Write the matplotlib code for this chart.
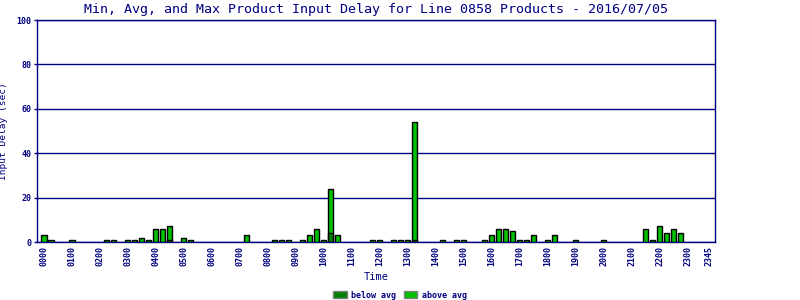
import matplotlib
matplotlib.use("Agg")
import matplotlib.pyplot as plt
from matplotlib.patches import Patch
import numpy as np

title = "Min, Avg, and Max Product Input Delay for Line 0858 Products - 2016/07/05"
tick_labels = ["0000", "0100", "0200", "0300", "0400", "0500", "0600", "0700",
               "0800", "0900", "1000", "1100", "1200", "1300", "1400", "1500",
               "1600", "1700", "1800", "1900", "2000", "2100", "2200", "2300", "2345"]
tick_slots = [0, 4, 8, 12, 16, 20, 24, 28, 32, 36, 40, 44, 48, 52, 56, 60,
              64, 68, 72, 76, 80, 84, 88, 92, 95]

# 15-minute slots 0000..2345 (96 values)
max_delay = [3, 1, 0, 0, 1, 0, 0, 0,
             0, 1, 1, 0, 1, 1, 2, 1,
             6, 6, 7, 0, 2, 1, 0, 0,
             0, 0, 0, 0, 0, 3, 0, 0,
             0, 1, 1, 1, 0, 1, 3, 6,
             1, 24, 3, 0, 0, 0, 0, 1,
             1, 0, 1, 1, 1, 54, 0, 0,
             0, 1, 0, 1, 1, 0, 0, 1,
             3, 6, 6, 5, 1, 1, 3, 0,
             1, 3, 0, 0, 1, 0, 0, 0,
             1, 0, 0, 0, 0, 0, 6, 1,
             7, 4, 6, 4, 0, 0, 0, 0]
avg_delay = [0] * 96
avg_delay[18] = 1
avg_delay[41] = 4
avg_delay[53] = 1

navy = "#000080"
dark_green = "#008000"
light_green = "#00c000"

plt.rcParams["font.family"] = "DejaVu Sans Mono"

fig = plt.figure(figsize=(8, 3), dpi=100)
ax = fig.add_axes([37 / 800, 58 / 300, 678 / 800, 222 / 300])

x = np.arange(len(max_delay))
mx = np.array(max_delay, dtype=float)
av = np.array(avg_delay, dtype=float)
mask = mx > 0
ax.bar(x[mask], mx[mask], width=0.72, color=light_green, edgecolor="black", linewidth=1, zorder=3)
m2 = av > 0
ax.bar(x[m2], av[m2], width=0.72, color=dark_green, edgecolor="black", linewidth=1, zorder=4)

ax.set_xlim(-1, 95.9)
ax.set_ylim(0, 100)
ax.set_yticks([0, 20, 40, 60, 80, 100])
ax.set_yticklabels(["0", "20", "40", "60", "80", "100"], fontsize=6, color=navy, fontweight="bold")
ax.yaxis.grid(True, color=navy, linewidth=1, zorder=1)
ax.set_axisbelow(True)
ax.tick_params(axis="y", length=2, color=navy, width=1, pad=2)

ax.set_xticks(tick_slots)
ax.set_xticklabels(tick_labels, rotation=90, fontsize=6, color=navy, fontweight="bold")
ax.tick_params(axis="x", length=0, pad=3)

for s in ax.spines.values():
    s.set_color(navy)
    s.set_linewidth(1)

ax.set_title(title, fontsize=9.6, color=navy, pad=5)
ax.set_ylabel("Input Delay (sec)", fontsize=6.8, color=navy)
ax.yaxis.set_label_coords(-29 / 678, 0.5)
ax.set_xlabel("Time", fontsize=7.5, color=navy, labelpad=4)

handles = [Patch(facecolor=dark_green, edgecolor="gray", label="below avg"),
           Patch(facecolor=light_green, edgecolor="gray", label="above avg")]
leg = fig.legend(handles=handles, loc="center", bbox_to_anchor=(400 / 800, 1 - 295 / 300),
                 ncol=2, frameon=False, fontsize=6, handlelength=1.6, handleheight=1.0,
                 columnspacing=1.0, handletextpad=0.5)
for t in leg.get_texts():
    t.set_color(navy)
    t.set_fontweight("bold")

fig.savefig("out.png", dpi=100)
